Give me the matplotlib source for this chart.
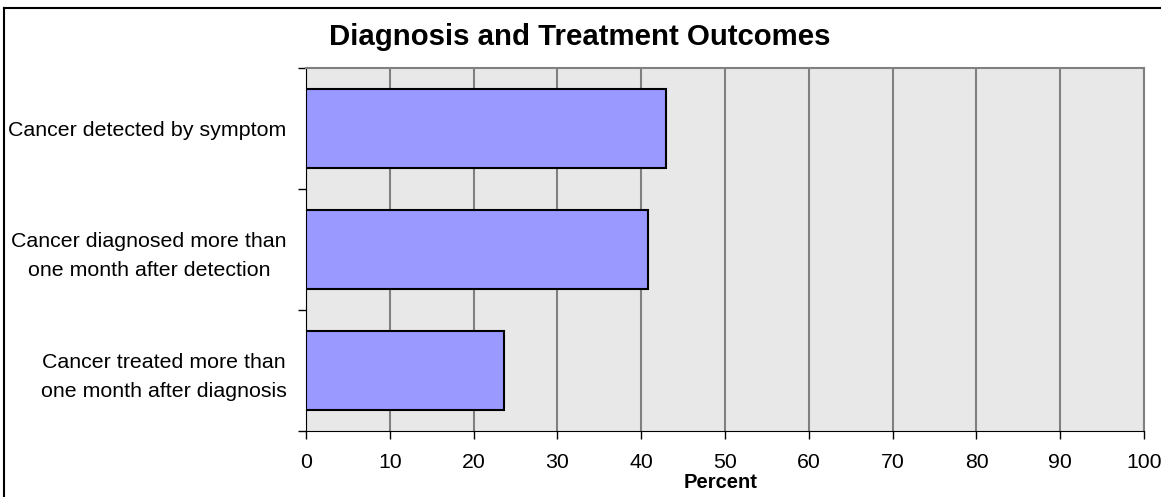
import matplotlib
matplotlib.use("Agg")
import matplotlib.pyplot as plt
from matplotlib.lines import Line2D

plt.rcParams['font.family'] = ['Liberation Sans', 'DejaVu Sans']

# ── data ──────────────────────────────────────────────
categories = [
    "Cancer detected by symptom",
    "Cancer diagnosed more than\none month after detection",
    "Cancer treated more than\none month after diagnosis",
]
percent = [43.0, 40.8, 23.6]
x_ticks = [0, 10, 20, 30, 40, 50, 60, 70, 80, 90, 100]

BAR = '#9999ff'
PLOT_BG = '#e8e8e8'
GRID = '#808080'

fig = plt.figure(figsize=(11.61, 4.97), dpi=100)
ax = fig.add_axes([0.2636, 0.1328, 0.7218, 0.7304])
ax.set_facecolor(PLOT_BG)

ypos = list(range(len(categories)))
ax.barh(ypos, percent, height=0.65, color=BAR, edgecolor='black',
        linewidth=1.5, zorder=3)

ax.set_xlim(0, 100)
ax.set_ylim(len(categories) - 0.5, -0.5)
ax.set_xticks(x_ticks)
ax.set_xticklabels([str(t) for t in x_ticks], fontsize=15.3)
ax.xaxis.grid(True, color=GRID, lw=1.5, zorder=1)

# category labels between boundary ticks
ax.set_yticks([i - 0.5 for i in range(len(categories) + 1)])
ax.set_yticklabels([])
ax.set_yticks(ypos, minor=True)
ax.set_yticklabels(categories, minor=True, fontsize=15.4,
                   multialignment='center', linespacing=1.65)
ax.tick_params(axis='y', which='minor', length=0, pad=14)
ax.tick_params(axis='y', which='major', length=6, width=1, color='black')
ax.tick_params(axis='x', length=6, width=1, color='black', pad=10)

for s in ['top', 'right']:
    ax.spines[s].set_color(GRID)
    ax.spines[s].set_linewidth(1.5)
ax.spines['left'].set_color('black')
ax.spines['bottom'].set_color('black')

fig.text(0.621, 0.030, 'Percent', ha='center', va='center',
         fontsize=14.5, fontweight='bold')

fig.text(0.4995, 0.925, 'Diagnosis and Treatment Outcomes', ha='center',
         va='center', fontsize=21.2, fontweight='bold')

# outer frame (only top and left edges fall inside the picture)
fig.add_artist(Line2D([0.0034, 1.0], [0.984, 0.984],
                      transform=fig.transFigure, color='black', lw=1.5))
fig.add_artist(Line2D([0.0034, 0.0034], [0.0, 0.984],
                      transform=fig.transFigure, color='black', lw=1.5))

fig.savefig('out.png', dpi=100)
